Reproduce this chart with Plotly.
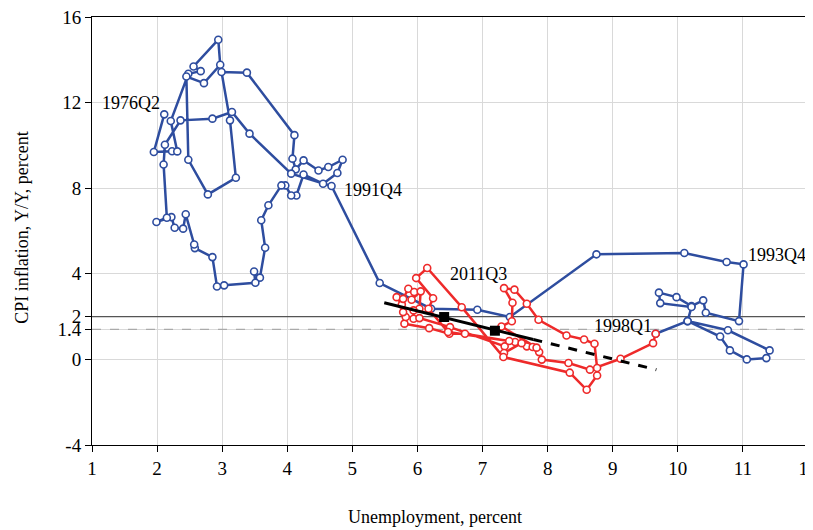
import plotly.graph_objects as go

# ---------------- data ----------------
blue_x = [2.11, 1.95, 2.23, 2.31, 2.21, 2.48, 2.67, 2.56, 2.94, 2.97, 2.72, 2.45, 2.48, 2.78, 3.21,
          3.12, 2.99, 3.38, 4.11, 4.08, 4.13, 4.25, 4.48, 4.63, 4.85, 4.77, 4.55, 4.25, 4.14, 4.06,
          3.97, 3.91, 3.71, 3.60, 3.66, 3.58, 3.49, 3.51, 3.03, 2.92, 2.85, 2.58, 2.57, 2.44, 2.40,
          2.27, 2.22, 1.99, 2.15, 2.10, 2.12, 2.36, 2.85, 3.15, 3.42, 4.06, 4.68,
          5.42, 6.21, 6.92, 7.42, 8.75, 10.10, 10.75, 11.01,
          10.94, 10.43, 10.39, 10.21, 9.98, 9.71, 9.73, 10.21, 10.15, 10.65, 10.80, 11.06, 11.36,
          11.41, 10.77, 10.15, 9.66]
blue_y = [11.45, 9.69, 9.73, 9.72, 11.14, 13.35, 13.47, 13.69, 14.94, 13.77, 12.91, 13.22, 9.33, 7.71, 8.49,
          11.17, 13.43, 13.40, 10.48, 9.38, 8.88, 9.30, 8.83, 8.99, 9.33, 8.71, 8.21, 8.64, 7.66, 7.66,
          8.13, 8.13, 7.20, 6.50, 5.22, 3.82, 4.11, 3.58, 3.46, 3.41, 4.78, 5.20, 5.37, 6.78, 6.11,
          6.15, 6.65, 6.42, 6.62, 9.11, 10.03, 11.17, 11.25, 11.56, 10.55, 8.68, 8.10,
          3.57, 2.37, 2.32, 1.98, 4.91, 4.97, 4.55, 4.44,
          1.79, 2.18, 2.76, 2.49, 2.91, 3.12, 2.63, 2.45, 1.79, 1.07, 0.42, 0.00, 0.06,
          0.42, 1.36, 1.79, 1.20]

red_x = [9.66, 9.62, 9.12, 8.65, 8.32, 7.91, 7.87, 7.68, 7.50, 6.73, 6.49, 6.18, 5.80, 5.82, 5.78,
         5.76, 5.68, 5.78, 5.86, 5.95, 5.91, 6.05, 6.03, 5.94, 5.94, 6.03, 6.50, 7.34, 7.33, 7.60,
         7.77, 7.41, 6.47, 6.17, 6.24, 5.98, 6.15, 6.68, 7.32, 8.34, 8.60, 8.76, 8.76, 8.72, 8.56,
         8.29, 7.86, 7.68, 7.49, 7.33, 7.46, 7.45, 7.29, 7.83]
red_y = [1.20, 0.76, 0.03, -0.48, -0.17, -0.01, 0.34, 0.61, 0.81, 1.20, 1.20, 1.46, 1.67, 1.98, 2.21,
         2.56, 2.91, 2.83, 3.30, 3.15, 2.79, 3.18, 2.37, 2.29, 1.90, 1.93, 1.51, 0.61, 0.30, 0.76,
         0.58, 0.86, 1.28, 2.37, 2.86, 3.80, 4.27, 2.44, 0.11, -0.62, -1.42, -0.75, -0.40, 0.73, 0.93,
         1.12, 1.85, 2.60, 3.26, 3.33, 2.65, 1.78, 1.54, 0.55]

trend_intercept = 6.76
trend_slope = -0.749
trend_solid_x = [5.49, 7.78]
trend_dash_x = [7.78, 9.67]
mean_x = [6.41, 7.19]
mean_y = [1.98, 1.34]

ref_solid = 2.0
ref_dash = 1.4

label_text = ["1976Q2", "1991Q4", "2011Q3", "1993Q4", "1998Q1"]
label_x = [1.12, 4.84, 6.47, 11.05, 8.68]
label_y = [12.0, 7.93, 4.00, 4.86, 1.54]

x_ticks = list(range(1, 13))
y_ticks = [-4, 0, 1.4, 2, 4, 8, 12, 16]
y_ticklabels = ["-4", "0", "1.4", "2", "4", "8", "12", "16"]

x_title = "Unemployment, percent"
y_title = "CPI inflation, Y/Y, percent"

BLUE = "#2E4D9F"
RED = "#EE2A2A"
FONT = "Liberation Serif"

fig = go.Figure()

# reference lines
fig.add_trace(go.Scatter(x=[1, 12], y=[ref_solid, ref_solid], mode="lines",
                         line=dict(color="#555555", width=1.2), hoverinfo="skip", showlegend=False))
fig.add_trace(go.Scatter(x=[1, 12], y=[ref_dash, ref_dash], mode="lines",
                         line=dict(color="#AAAAAA", width=1.2, dash="dash"), hoverinfo="skip", showlegend=False))

def marker_style(c):
    return dict(symbol="circle", size=7, color="white", line=dict(color=c, width=1.6))

fig.add_trace(go.Scatter(x=blue_x, y=blue_y, mode="lines+markers",
                         line=dict(color=BLUE, width=2.5), marker=marker_style(BLUE), showlegend=False))
fig.add_trace(go.Scatter(x=red_x, y=red_y, mode="lines+markers",
                         line=dict(color=RED, width=2.5), marker=marker_style(RED), showlegend=False))

# trend line
fig.add_trace(go.Scatter(x=trend_solid_x, y=[trend_intercept + trend_slope * v for v in trend_solid_x],
                         mode="lines", line=dict(color="black", width=3), showlegend=False))
fig.add_trace(go.Scatter(x=trend_dash_x, y=[trend_intercept + trend_slope * v for v in trend_dash_x],
                         mode="lines", line=dict(color="black", width=3, dash="dash"), showlegend=False))
fig.add_trace(go.Scatter(x=mean_x, y=mean_y, mode="markers",
                         marker=dict(symbol="square", size=10, color="black"), showlegend=False))

for t, xx, yy in zip(label_text, label_x, label_y):
    fig.add_annotation(x=xx, y=yy, text=t, showarrow=False, xanchor="left", yanchor="middle",
                       font=dict(family=FONT, size=18, color="black"))

# axis titles
fig.add_annotation(x=0.479, y=-0.168, xref="paper", yref="paper", text=x_title, showarrow=False,
                   xanchor="center", yanchor="middle", font=dict(family=FONT, size=18, color="black"))
fig.add_annotation(x=-0.098, y=0.507, xref="paper", yref="paper", text=y_title, showarrow=False,
                   textangle=-90, xanchor="center", yanchor="middle",
                   font=dict(family=FONT, size=18, color="black"))

axis_common = dict(showline=True, linecolor="black", linewidth=1, mirror=True,
                   ticks="outside", ticklen=6, tickcolor="black", automargin=False,
                   ticklabeloverflow="allow",
                   showgrid=True, gridcolor="#D9D9D9", gridwidth=1, zeroline=False,
                   tickfont=dict(family=FONT, size=19, color="black"))

fig.update_xaxes(range=[1, 12], tickvals=x_ticks, **axis_common)
fig.update_yaxes(range=[-4, 16], tickvals=y_ticks, ticktext=y_ticklabels, **axis_common)

# the page body adds an 8px margin, so the figure is sized to compensate
fig.update_layout(width=805, height=522, margin=dict(l=84, r=5, t=9, b=85),
                  plot_bgcolor="white", paper_bgcolor="white")

fig.write_html("out.html")
